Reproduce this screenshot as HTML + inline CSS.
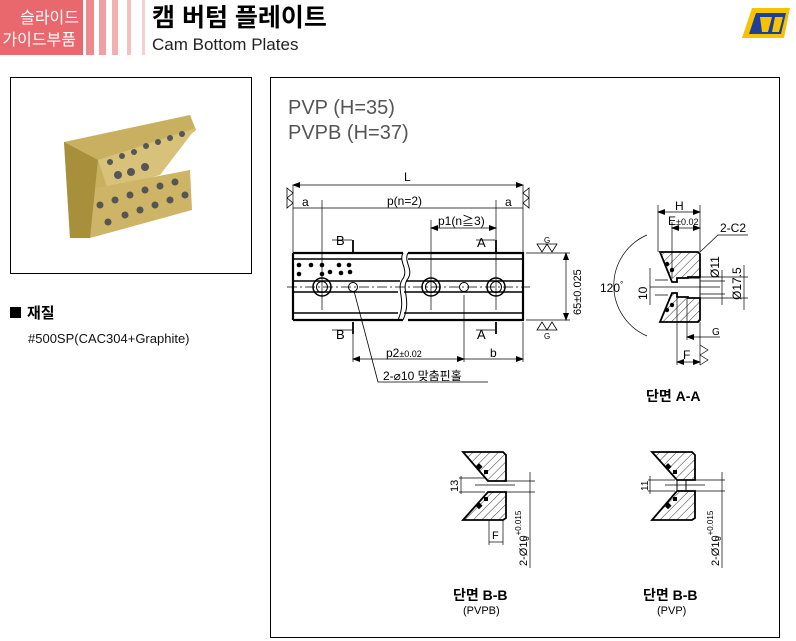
<!DOCTYPE html>
<html><head><meta charset="utf-8"><style>
body{margin:0;background:#fff;width:796px;height:641px;overflow:hidden;font-family:"Liberation Sans","Noto Sans CJK KR",sans-serif}
svg{position:absolute;left:0;top:0}
</style></head><body>
<svg width="796" height="641" viewBox="0 0 796 641" font-family="Liberation Sans, Noto Sans CJK KR, sans-serif">
<defs>
<pattern id="h" patternUnits="userSpaceOnUse" width="6" height="6" patternTransform="rotate(45)"><line x1="0" y1="0" x2="0" y2="6" stroke="#000" stroke-width="0.8"/></pattern>
<marker id="ar" markerWidth="8" markerHeight="6" refX="7" refY="3" orient="auto-start-reverse" markerUnits="userSpaceOnUse"><path d="M0,0 L8,3 L0,6z" fill="#000"/></marker>
</defs>
<!-- header -->
<rect x="0" y="0" width="83" height="55" fill="#e9686d"/>
<text x="79" y="23" font-size="16" fill="#fff" text-anchor="end">슬라이드</text>
<text x="76" y="45" font-size="16" fill="#fff" text-anchor="end">가이드부품</text>
<rect x="86" y="0" width="8" height="55" fill="#ec8a8d"/>
<rect x="99" y="0" width="7" height="55" fill="#f0a0a2"/>
<rect x="112" y="0" width="6" height="55" fill="#f2b0b2"/>
<rect x="127" y="0" width="4" height="55" fill="#f4c0c1"/>
<rect x="142" y="0" width="3" height="55" fill="#f6d0d1"/>
<text x="152" y="26" font-size="25" font-weight="bold" fill="#000">캠 버텀 플레이트</text>
<text x="152" y="50" font-size="17" fill="#222">Cam Bottom Plates</text>
<!-- logo -->
<path d="M752,8 L790,8 L784,38 L742,38z" fill="#f5c400"/>
<path d="M756,13 L786,13 L781,34 L749,34z" fill="#1d3f9a"/>
<path d="M760,17 L772,17 L768,32 L762,32z M775,17 L783,17 L779,32 L772,32z" fill="#f5c400"/>
<!-- photo box -->
<rect x="10.5" y="77.5" width="241" height="196" fill="none" stroke="#000"/>
<polygon points="64,142 190,115 196,130 128,185 70,238" fill="#c9b060"/>
<polygon points="98,160 196,128 160,175 108,190" fill="#d8c27a"/>
<polygon points="86,190 190,170 192,210 90,238" fill="#cdb466"/>
<polygon points="64,142 98,160 90,238 70,238" fill="#a88f3c"/>
<g fill="#555">
<circle cx="110" cy="162" r="3"/><circle cx="122" cy="156" r="3"/><circle cx="134" cy="152" r="3"/><circle cx="146" cy="146" r="3"/><circle cx="158" cy="142" r="3"/><circle cx="170" cy="138" r="3"/><circle cx="182" cy="134" r="3"/>
<circle cx="118" cy="175" r="4"/><circle cx="131" cy="172" r="4"/><circle cx="145" cy="167" r="4"/>
<circle cx="100" cy="205" r="3.5"/><circle cx="115" cy="200" r="3.5"/><circle cx="130" cy="195" r="3.5"/><circle cx="145" cy="190" r="3.5"/><circle cx="160" cy="186" r="3.5"/><circle cx="175" cy="182" r="3.5"/>
<circle cx="108" cy="222" r="3.5"/><circle cx="125" cy="215" r="3.5"/><circle cx="140" cy="210" r="3.5"/><circle cx="155" cy="205" r="3.5"/><circle cx="170" cy="200" r="3.5"/><circle cx="185" cy="195" r="3.5"/>
</g>
<rect x="10" y="307" width="11" height="11" fill="#000"/>
<text x="27" y="318" font-size="15" font-weight="bold">재질</text>
<text x="28" y="343" font-size="13" fill="#111">#500SP(CAC304+Graphite)</text>
<!-- right panel -->
<rect x="270.5" y="77.5" width="509" height="560" fill="none" stroke="#000"/>
<text x="288" y="114" font-size="20" fill="#555">PVP (H=35)</text>
<text x="288" y="139" font-size="20" fill="#555">PVPB (H=37)</text>
<g stroke="#000" fill="none" stroke-width="1">
<path d="M293,253 H403 M408,253 H523 V320 H408 M403,320 H293 Z" stroke-width="2.2"/>
<line x1="293" y1="253" x2="293" y2="320" stroke-width="2.2"/>
<path d="M293,259 H402 M408,259 H523 M293,281 H400 M406,281 H523 M293,292 H398 M404,292 H523 M293,313 H398 M404,313 H523" stroke-width="1.5"/>
<path d="M403,253 C398,262 410,270 402,280 C396,290 407,300 398,320 M408,253 C403,262 415,270 407,280 C401,290 412,300 403,320" stroke-width="1"/>
<line x1="287" y1="287" x2="530" y2="287" stroke-dasharray="10,3,2,3" stroke-width="0.8"/>
<circle cx="322" cy="287" r="9" stroke-width="1.5"/><circle cx="322" cy="287" r="5.5"/>
<circle cx="431" cy="287" r="9" stroke-width="1.5"/><circle cx="431" cy="287" r="5.5"/>
<circle cx="496" cy="287" r="9" stroke-width="1.5"/><circle cx="496" cy="287" r="5.5"/>
<circle cx="353" cy="287" r="4.5"/><circle cx="464" cy="287" r="4.5"/>
<line x1="293" y1="185" x2="293" y2="253" stroke-width="0.7"/><line x1="523" y1="185" x2="523" y2="253" stroke-width="0.7"/>
<line x1="293" y1="185" x2="523" y2="185" marker-start="url(#ar)" marker-end="url(#ar)" stroke-width="0.7"/>
<line x1="293" y1="208" x2="523" y2="208" stroke-width="0.7"/>
<line x1="322" y1="200" x2="322" y2="310" stroke-width="0.7"/><line x1="496" y1="200" x2="496" y2="310" stroke-width="0.7"/>
<line x1="431" y1="220" x2="431" y2="310" stroke-width="0.7"/>
<line x1="431" y1="228" x2="496" y2="228" marker-start="url(#ar)" marker-end="url(#ar)" stroke-width="0.7"/>
<path d="M353,240 V252 M353,322 V334 M496,240 V252 M496,322 V334" stroke-width="1.8"/>
<path d="M332,240 H352 M332,330 H352 M476,240 H495 M476,330 H495" stroke-width="0.7"/>
<line x1="353" y1="334" x2="353" y2="362" stroke-width="0.7"/><line x1="464" y1="295" x2="464" y2="362" stroke-width="0.7"/><line x1="523" y1="322" x2="523" y2="362" stroke-width="0.7"/>
<line x1="353" y1="359" x2="464" y2="359" marker-start="url(#ar)" marker-end="url(#ar)" stroke-width="0.7"/>
<line x1="464" y1="359" x2="523" y2="359" marker-end="url(#ar)" stroke-width="0.7"/>
<path d="M354,291 L378,382 H488" stroke-width="0.8"/>
<path d="M526,253 H570 M526,320 H570" stroke-width="0.7"/>
<line x1="566" y1="253" x2="566" y2="320" marker-start="url(#ar)" marker-end="url(#ar)" stroke-width="0.7"/>
<path d="M287,188 L293,193 L287,198 Z M287,198 L293,203 L287,208 Z M529,188 L523,193 L529,198 Z M529,198 L523,203 L529,208 Z" stroke-width="0.8"/>
<path d="M537,244 L542,252 L547,244 Z M547,244 L552,252 L557,244 Z M537,330 L542,322 L547,330 Z M547,330 L552,322 L557,330 Z" stroke-width="0.8"/>
</g>
<g font-size="12" fill="#000">
<text x="404" y="181">L</text>
<text x="302" y="206">a</text><text x="387" y="205">p(n=2)</text><text x="505" y="206">a</text>
<text x="438" y="225">p1(n≧3)</text>
<text x="336" y="245" font-size="13">B</text><text x="336" y="339" font-size="13">B</text>
<text x="477" y="247" font-size="13">A</text><text x="477" y="339" font-size="13">A</text>
<text x="386" y="357">p2<tspan font-size="9">±0.02</tspan></text>
<text x="490" y="357">b</text>
<text x="383" y="380">2-⌀10 맞춤핀홀</text>
<text x="544" y="243" font-size="8">G</text><text x="544" y="339" font-size="8">G</text>
<text transform="translate(581,315) rotate(-90)" font-size="11">65±0.025</text>
</g>
<!-- section A-A -->
<g stroke="#000" stroke-width="1.8">
<path d="M660,252 H698 L700,254 V277 H688 V278 H677 V282 H672 Z" fill="url(#h)"/>
<path d="M672,293 H677 V297 H688 V298 H700 V320 L698,322 H660 Z" fill="url(#h)"/>
<path d="M688,278 H700 V298 H688" fill="none" stroke-width="1"/>
</g>
<g stroke="#000" fill="none" stroke-width="0.7">
<path d="M647,235 A55,55 0 0 0 647,336"/>
<path d="M658,252 V205 M700,252 V205 M672,278 V222"/>
<line x1="658" y1="212" x2="700" y2="212" marker-start="url(#ar)" marker-end="url(#ar)"/>
<line x1="672" y1="228" x2="700" y2="228" marker-start="url(#ar)" marker-end="url(#ar)"/>
<path d="M700,252 L718,235 H748"/>
<path d="M650,287 H720 M655,280 H668 M655,295 H668"/>
<line x1="650" y1="268" x2="650" y2="305"/>
<path d="M700,281 H725 M700,294 H725 M700,277 H748 M700,298 H748"/>
<line x1="722" y1="270" x2="722" y2="305"/><line x1="744" y1="265" x2="744" y2="310"/>
<path d="M677,298 V365 M687,298 V340 M700,322 V365"/>
<line x1="687" y1="337" x2="720" y2="337" marker-start="url(#ar)"/>
<line x1="677" y1="362" x2="700" y2="362" marker-start="url(#ar)" marker-end="url(#ar)"/>
<path d="M700,345 L708,350 L700,355 M700,355 L708,360 L700,365"/>
</g>
<g fill="#000">
<circle cx="667" cy="264" r="2.2"/><circle cx="672" cy="270" r="2.2"/><circle cx="667" cy="310" r="2.2"/><circle cx="672" cy="305" r="2.2"/>
</g>
<g font-size="12" fill="#000">
<text x="675" y="210">H</text>
<text x="668" y="225">E<tspan font-size="9">±0.02</tspan></text>
<text x="720" y="232">2-C2</text>
<text x="600" y="292">120<tspan font-size="8" dy="-5">°</tspan></text>
<text transform="translate(647,300) rotate(-90)">10</text>
<text transform="translate(719,278) rotate(-90)">Ø11</text>
<text transform="translate(741,300) rotate(-90)">Ø17.5</text>
<text x="712" y="335" font-size="10">G</text>
<text x="683" y="359">F</text>
<text x="646" y="401" font-size="14" font-weight="bold">단면 A-A</text>
</g>
<!-- section B-B PVPB -->
<g stroke="#000" stroke-width="1.8">
<path d="M463,452 H503 L506,455 V481 H488 Z" fill="url(#h)"/>
<path d="M488,492 H506 V518 L503,520 H463 Z" fill="url(#h)"/>
</g>
<g stroke="#000" fill="none" stroke-width="0.7">
<path d="M459,478 H485 M459,492 H485 M475,485 H515 M506,481 H535 M506,492 H535"/>
<line x1="461" y1="476" x2="461" y2="494"/>
<line x1="530" y1="472" x2="530" y2="568"/>
<path d="M489,520 V545 M503,520 V545"/>
<line x1="489" y1="542" x2="503" y2="542"/>
</g>
<g stroke="#000" stroke-width="1.8">
<path d="M652,452 H692 L695,455 V480 H677 Z" fill="url(#h)"/>
<path d="M677,491 H695 V518 L692,520 H652 Z" fill="url(#h)"/>
<path d="M677,480 V491 M686,480 V491" fill="none" stroke-width="1"/>
</g>
<g stroke="#000" fill="none" stroke-width="0.7">
<path d="M648,480 H675 M648,491 H675 M665,485 H705 M695,480 H725 M695,491 H725"/>
<line x1="650" y1="476" x2="650" y2="494"/>
<line x1="722" y1="472" x2="722" y2="568"/>
</g>
<g fill="#000">
<rect x="477" y="464" width="5" height="5" transform="rotate(45 479 466)"/><rect x="484" y="470" width="4" height="4"/>
<rect x="477" y="503" width="5" height="5" transform="rotate(45 479 505)"/><rect x="484" y="497" width="4" height="4"/>
<rect x="666" y="464" width="5" height="5" transform="rotate(45 668 466)"/><rect x="673" y="470" width="4" height="4"/>
<rect x="666" y="503" width="5" height="5" transform="rotate(45 668 505)"/><rect x="673" y="497" width="4" height="4"/>
</g>
<g font-size="11" fill="#000">
<text transform="translate(458,492) rotate(-90)">13</text>
<text x="492" y="539">F</text>
<text transform="translate(527,566) rotate(-90)">2-Ø10<tspan font-size="8" dy="-6">+0.015</tspan><tspan font-size="8" dx="-30" dy="8">0</tspan></text>
<text transform="translate(648,491) rotate(-90)" font-size="10">11</text>
<text transform="translate(719,566) rotate(-90)">2-Ø10<tspan font-size="8" dy="-6">+0.015</tspan><tspan font-size="8" dx="-30" dy="8">0</tspan></text>
<text x="453" y="600" font-size="14" font-weight="bold">단면 B-B</text>
<text x="463" y="614" font-size="11">(PVPB)</text>
<text x="643" y="600" font-size="14" font-weight="bold">단면 B-B</text>
<text x="657" y="614" font-size="11">(PVP)</text>
</g>
<g fill="#000">
<circle cx="299" cy="265" r="2.3"/><circle cx="311" cy="265" r="2.3"/><circle cx="322" cy="265" r="2.3"/><circle cx="339" cy="265" r="2.3"/><circle cx="349" cy="265" r="2.3"/>
<circle cx="299" cy="274" r="2.3"/><circle cx="322" cy="274" r="2.3"/><circle cx="330" cy="272" r="2.3"/><circle cx="341" cy="273" r="2.3"/><circle cx="350" cy="272" r="2.3"/>
</g>
</svg>
</body></html>
